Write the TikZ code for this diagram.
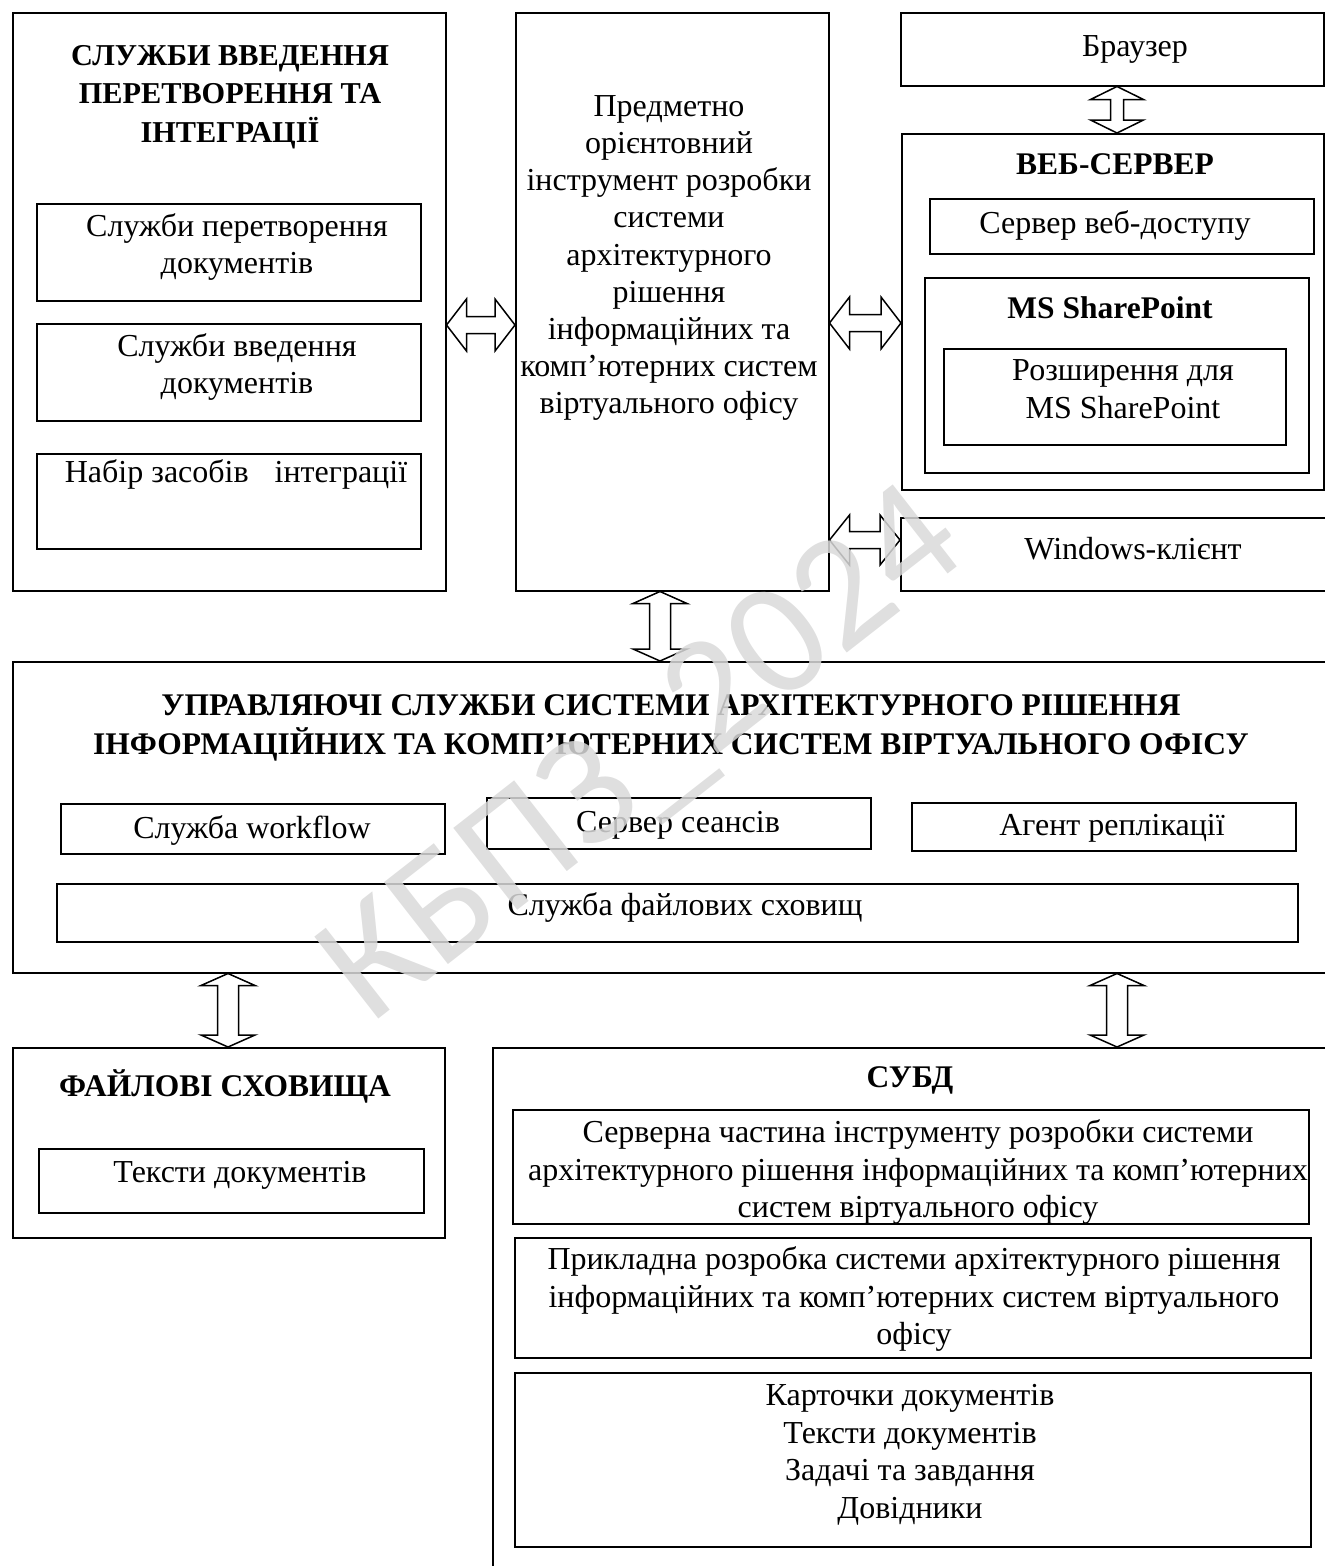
\documentclass[tikz,border=0pt]{standalone}
\usepackage{fontspec}
\setmainfont{Liberation Serif}
\newfontfamily\wmfont{Carlito}
\usetikzlibrary{calc}

% horizontal double block arrow between two tips: #3 head length, #4 head half width, #5 shaft half width
\newcommand\hblockarrow[5]{%
  \draw[barrow] let \p1=(#1), \p2=(#2) in
    (\x1,\y1) -- (\x1+#3,\y1+#4) -- (\x1+#3,\y1+#5) -- (\x2-#3,\y1+#5) -- (\x2-#3,\y1+#4) -- (\x2,\y1)
    -- (\x2-#3,\y1-#4) -- (\x2-#3,\y1-#5) -- (\x1+#3,\y1-#5) -- (\x1+#3,\y1-#4) -- cycle;}
% vertical double block arrow: #1 upper tip, #2 lower tip
\newcommand\vblockarrow[5]{%
  \draw[barrow] let \p1=(#1), \p2=(#2) in
    (\x1,\y1) -- (\x1+#4,\y1-#3) -- (\x1+#5,\y1-#3) -- (\x1+#5,\y2+#3) -- (\x1+#4,\y2+#3) -- (\x1,\y2)
    -- (\x1-#4,\y2+#3) -- (\x1-#5,\y2+#3) -- (\x1-#5,\y1-#3) -- (\x1-#4,\y1-#3) -- cycle;}

\begin{document}
\begin{tikzpicture}[x=1pt,y=-1pt,
  box/.style={draw,line width=1.5pt,rectangle,inner sep=0pt,anchor=north west},
  txt/.style={align=center,inner sep=0pt,font=\fontsize{32}{37.5}\selectfont},
  ttl/.style={align=center,inner sep=0pt,font=\fontsize{31.5}{38.5}\selectfont\bfseries},
  barrow/.style={draw,line width=1.5pt,fill=white,line join=miter},
  wm/.style={font=\wmfont\fontsize{162}{162}\selectfont,text=black!15,opacity=0.85,inner sep=0pt}]

\useasboundingbox (0,0) rectangle (1325,1566);
\clip (0,0) rectangle (1325,1566);

% ---- input, conversion and integration services
\node[box,minimum width=433pt,minimum height=578pt] (L) at (12,12) {};
\node[ttl,font=\fontsize{30.3}{38.5}\selectfont\bfseries] (Lt) at (230,97) {СЛУЖБИ ВВЕДЕННЯ\\ПЕРЕТВОРЕННЯ ТА\\ІНТЕГРАЦІЇ};
\node[box,minimum width=384pt,minimum height=97pt] (L1) at (36,203) {};
\node[txt] (L1t) at (237,247) {Служби перетворення\\документів};
\node[box,minimum width=384pt,minimum height=97pt] (L2) at (36,323) {};
\node[txt] (L2t) at (237,367) {Служби введення\\документів};
\node[box,minimum width=384pt,minimum height=95pt] (L3) at (36,453) {};
\node[txt] (L3t) at (236,474) {Набір засобів\hspace{26pt}інтеграції};

% ---- development tool
\node[box,minimum width=313pt,minimum height=578pt] (M) at (515,12) {};
\node[txt,font=\fontsize{32}{37.1}\selectfont] (Mt) at (669,258)
  {Предметно\\орієнтовний\\інструмент розробки\\системи\\архітектурного\\рішення\\інформаційних та\\комп’ютерних систем\\віртуального офісу};

% ---- browser and web server
\node[box,minimum width=423pt,minimum height=73pt] (B) at (900,12) {};
\node[txt] (Bt) at (1135,49) {Браузер};
\node[box,minimum width=422pt,minimum height=356pt] (W) at (901,133) {};
\node[ttl] (Wt) at (1115,164) {ВЕБ-СЕРВЕР};
\node[box,minimum width=384pt,minimum height=55pt] (W1) at (929,198) {};
\node[txt] (W1t) at (1115,225) {Сервер веб-доступу};
\node[box,minimum width=384pt,minimum height=195pt] (SP) at (924,277) {};
\node[ttl] (SPt) at (1110,308) {MS SharePoint};
\node[box,minimum width=342pt,minimum height=96pt] (SPx) at (943,348) {};
\node[txt] (SPxt) at (1123,389) {Розширення для\\ MS SharePoint};
\node[box,minimum width=440pt,minimum height=73pt] (Win) at (900,517) {};
\node[txt] (Wint) at (1133,549) {Windows-клієнт};

% ---- control services
\node[box,minimum width=1330pt,minimum height=311pt] (U) at (12,661) {};
\node[ttl] (Ut) at (671,728) {УПРАВЛЯЮЧІ СЛУЖБИ СИСТЕМИ АРХІТЕКТУРНОГО РІШЕННЯ\\ІНФОРМАЦІЙНИХ ТА КОМП’ЮТЕРНИХ СИСТЕМ ВІРТУАЛЬНОГО ОФІСУ};
\node[box,minimum width=384pt,minimum height=50pt] (U1) at (60,803) {};
\node[txt] (U1t) at (252,830) {Служба workflow};
\node[box,minimum width=384pt,minimum height=51pt] (U2) at (486,797) {};
\node[txt] (U2t) at (678,825) {Сервер сеансів};
\node[box,minimum width=384pt,minimum height=48pt] (U3) at (911,802) {};
\node[txt] (U3t) at (1112,828) {Агент реплікації};
\node[box,minimum width=1241pt,minimum height=58pt] (U4) at (56,883) {};
\node[txt] (U4t) at (685,907) {Служба файлових сховищ};

% ---- file storages
\node[box,minimum width=432pt,minimum height=190pt] (F) at (12,1047) {};
\node[ttl] (Ft) at (225,1086) {ФАЙЛОВІ СХОВИЩА};
\node[box,minimum width=385pt,minimum height=64pt] (F1) at (38,1148) {};
\node[txt] (F1t) at (240,1175) {Тексти документів};

% ---- DBMS
\node[box,minimum width=850pt,minimum height=540pt] (S) at (492,1047) {};
\node[ttl] (St) at (910,1080) {СУБД};
\node[box,minimum width=796pt,minimum height=114pt] (S1) at (512,1109) {};
\node[txt] (S1t) at (918,1172) {Серверна частина інструменту розробки системи\\архітектурного рішення інформаційних та комп’ютерних\\систем віртуального офісу};
\node[box,minimum width=796pt,minimum height=120pt] (S2) at (514,1237) {};
\node[txt] (S2t) at (914,1299) {Прикладна розробка системи архітектурного рішення\\інформаційних та комп’ютерних систем віртуального\\офісу};
\node[box,minimum width=796pt,minimum height=174pt] (S3) at (514,1372) {};
\node[txt] (S3t) at (910,1455) {Карточки документів\\Тексти документів\\Задачі та завдання\\Довідники};

% ---- block arrows between the parts
\hblockarrow{L.east |- 0,325}{M.west |- 0,325}{20pt}{26pt}{8.5pt}
\hblockarrow{M.east |- 0,323}{W.west |- 0,323}{20pt}{26pt}{8.5pt}
\hblockarrow{M.east |- 0,540}{Win.west |- 0,540}{20pt}{25pt}{8.5pt}
\vblockarrow{B.south -| 1117,0}{W.north -| 1117,0}{13pt}{26.5pt}{6.5pt}
\vblockarrow{M.south -| 660,0}{U.north -| 660,0}{12pt}{27pt}{10.5pt}
\vblockarrow{U.south -| 228,0}{F.north -| 228,0}{12pt}{27pt}{10.5pt}
\vblockarrow{U.south -| 1117,0}{S.north -| 1117,0}{12pt}{27pt}{10.5pt}

% ---- watermark
\node[wm,rotate=38] (wmk) at (645,758) {КБПЗ\_2024};
\end{tikzpicture}
\end{document}
